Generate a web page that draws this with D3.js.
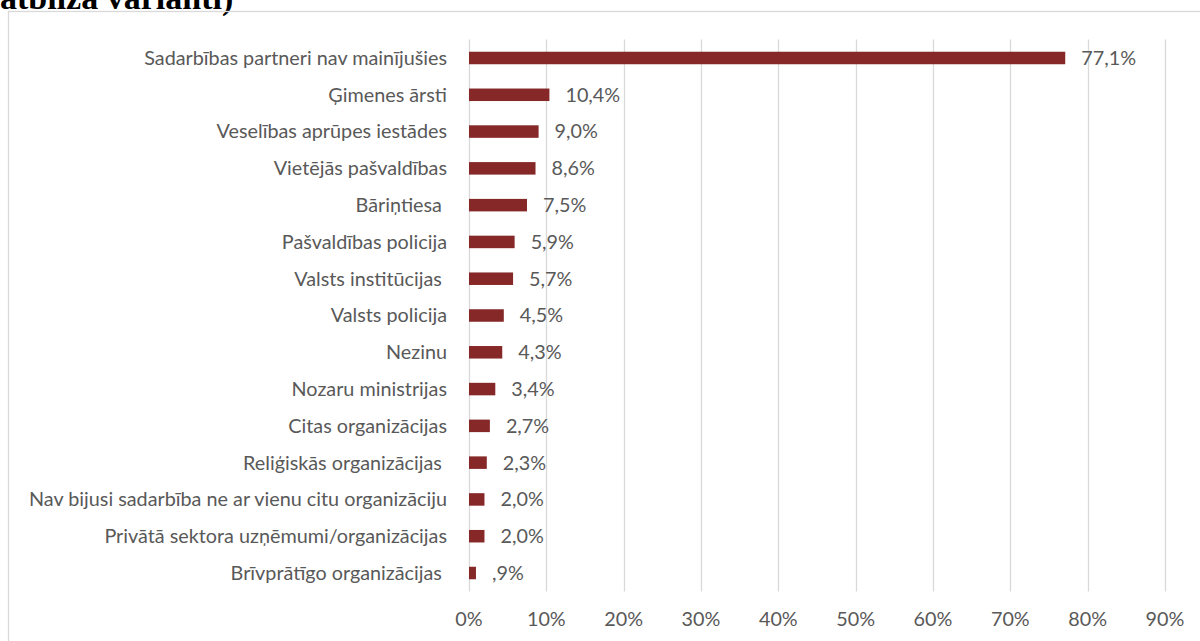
<!DOCTYPE html>
<html>
<head>
<meta charset="utf-8">
<script src="https://cdn.jsdelivr.net/npm/d3@7"></script>
<style>
  html, body { margin: 0; padding: 0; background: #fff; }
  svg { display: block; }
</style>
</head>
<body>
<svg id="chart" width="1200" height="641"></svg>
<script>
const categories = [
  "Sadarbības partneri nav mainījušies",
  "Ģimenes ārsti",
  "Veselības aprūpes iestādes",
  "Vietējās pašvaldības",
  "Bāriņtiesa ",
  "Pašvaldības policija",
  "Valsts institūcijas ",
  "Valsts policija",
  "Nezinu",
  "Nozaru ministrijas",
  "Citas organizācijas",
  "Reliģiskās organizācijas ",
  "Nav bijusi sadarbība ne ar vienu citu organizāciju",
  "Privātā sektora uzņēmumi/organizācijas",
  "Brīvprātīgo organizācijas "
];
const values = [77.1, 10.4, 9.0, 8.6, 7.5, 5.9, 5.7, 4.5, 4.3, 3.4, 2.7, 2.3, 2.0, 2.0, 0.9];
const tickValues = [0, 10, 20, 30, 40, 50, 60, 70, 80, 90];
const tickLabels = ["0%", "10%", "20%", "30%", "40%", "50%", "60%", "70%", "80%", "90%"];
const titleText = "atbilža varianti)";

const svg = d3.select("#chart");
const barColor = "#862828";
const textColor = "#595959";
const gridColor = "#d9d9d9";
const font = "Lato, 'Open Sans', sans-serif";
const fs = 19.8;

// title (partially cut at top)
svg.append("text")
  .attr("x", 0).attr("y", 9)
  .attr("font-family", "'Liberation Serif', 'Times New Roman', serif")
  .attr("font-weight", "bold")
  .attr("font-size", 34)
  .attr("fill", "#000")
  .text(titleText);

// chart border
svg.append("rect")
  .attr("x", 8.5).attr("y", 11.5)
  .attr("width", 1250).attr("height", 700)
  .attr("fill", "none").attr("stroke", gridColor).attr("stroke-width", 1.3);

const x = d3.scaleLinear().domain([0, 90]).range([469, 1165]);
const y = d3.scaleBand().domain(categories).range([39.6, 591.4]).paddingInner(0.66).paddingOuter(0.33);

// gridlines
svg.append("g").selectAll("line").data(tickValues).join("line")
  .attr("x1", d => Math.round(x(d)) + 0.5).attr("x2", d => Math.round(x(d)) + 0.5)
  .attr("y1", 39.6).attr("y2", 591.4)
  .attr("stroke", gridColor).attr("stroke-width", 1.3);

// x tick labels
svg.append("g").selectAll("text").data(tickValues).join("text")
  .attr("x", d => x(d)).attr("y", 619)
  .attr("dy", "0.35em")
  .attr("text-anchor", "middle")
  .attr("font-family", font).attr("font-size", fs)
  .attr("fill", textColor)
  .text((d, i) => tickLabels[i]);

// bars
svg.append("g").selectAll("rect").data(categories).join("rect")
  .attr("x", x(0))
  .attr("y", d => y(d))
  .attr("width", (d, i) => x(values[i]) - x(0))
  .attr("height", y.bandwidth())
  .attr("fill", barColor);

// category labels
svg.append("g").selectAll("text").data(categories).join("text")
  .attr("x", 447)
  .attr("y", d => y(d) + y.bandwidth() / 2)
  .attr("dy", "0.35em")
  .attr("text-anchor", "end")
  .attr("font-family", font).attr("font-size", fs)
  .attr("fill", textColor)
  .style("white-space", "pre")
  .text(d => d);

// value labels
const fmt = v => v.toFixed(1).replace(".", ",").replace(/^0,/, ",") + "%";
svg.append("g").selectAll("text").data(categories).join("text")
  .attr("x", (d, i) => x(values[i]) + 16)
  .attr("y", d => y(d) + y.bandwidth() / 2)
  .attr("dy", "0.35em")
  .attr("font-family", font).attr("font-size", fs)
  .attr("fill", textColor)
  .text((d, i) => fmt(values[i]));
</script>
</body>
</html>
